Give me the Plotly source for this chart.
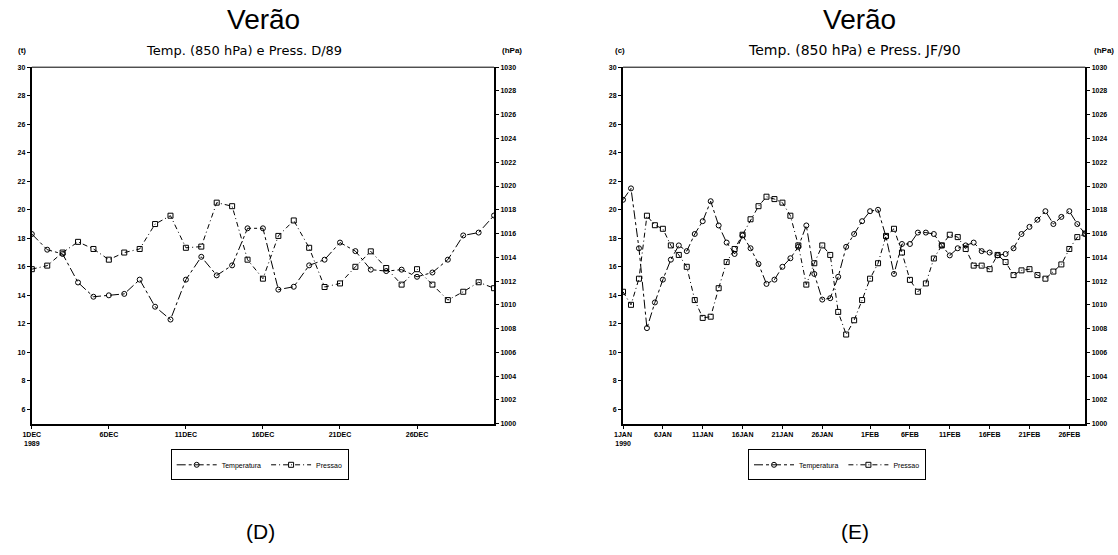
import pandas as pd
import plotly.graph_objects as go

W, H = 1118, 555

# ---------------- data ----------------
dates_d = pd.date_range("1989-12-01", "1989-12-31", freq="D")
temp_d = [18.3, 17.2, 16.9, 14.9, 13.9, 14.0, 14.1, 15.1, 13.2, 12.3, 15.1, 16.7, 15.4, 16.1, 18.7,
          18.7, 14.4, 14.6, 16.1, 16.5, 17.7, 17.1, 15.8, 15.7, 15.8, 15.3, 15.6, 16.5, 18.2, 18.4, 19.6]
press_d = [1013.0, 1013.3, 1014.4, 1015.3, 1014.7, 1013.8, 1014.4, 1014.7, 1016.8, 1017.5, 1014.8,
           1014.9, 1018.6, 1018.3, 1013.8, 1012.2, 1015.8, 1017.1, 1014.8, 1011.5, 1011.8, 1013.2,
           1014.5, 1013.1, 1011.7, 1013.0, 1011.7, 1010.4, 1011.1, 1011.9, 1011.4]

dates_jf = pd.date_range("1990-01-01", "1990-02-28", freq="D")
temp_jf = [20.7, 21.5, 17.3, 11.7, 13.5, 15.1, 16.5, 17.5, 17.1, 18.3, 19.2, 20.6, 18.9, 17.7, 16.9,
           18.2, 17.3, 16.2, 14.8, 15.1, 16.0, 16.6, 17.4, 18.9, 15.5, 13.7, 13.8, 15.3, 17.4, 18.3,
           19.2, 19.9, 20.0, 18.1, 15.5, 17.6, 17.6, 18.4, 18.4, 18.3, 17.5, 16.8, 17.3, 17.5, 17.7,
           17.1, 17.0, 16.8, 16.9, 17.3, 18.3, 18.8, 19.3, 19.9, 19.0, 19.5, 19.9, 19.0, 18.3]
press_jf = [1011.1, 1010.0, 1012.2, 1017.5, 1016.7, 1016.4, 1015.0, 1014.2, 1013.2, 1010.4,
            1008.9, 1009.0, 1011.4, 1013.6, 1014.7, 1015.9, 1017.2, 1018.3, 1019.1, 1018.9,
            1018.6, 1017.5, 1015.0, 1011.7, 1013.5, 1015.0, 1014.2, 1009.4, 1007.5, 1008.7,
            1010.4, 1012.2, 1013.5, 1015.8, 1016.4, 1014.4, 1012.1, 1011.1, 1011.8, 1013.9,
            1015.0, 1015.9, 1015.7, 1014.7, 1013.3, 1013.3, 1013.0, 1014.2, 1013.6, 1012.5,
            1012.9, 1013.0, 1012.5, 1012.2, 1012.8, 1013.4, 1014.7, 1015.7, 1016.0]

tick_d = ["1989-12-01", "1989-12-06", "1989-12-11", "1989-12-16", "1989-12-21", "1989-12-26"]
tick_d_txt = ["1DEC<br>1989", "6DEC", "11DEC", "16DEC", "21DEC", "26DEC"]
tick_jf = ["1990-01-01", "1990-01-06", "1990-01-11", "1990-01-16", "1990-01-21", "1990-01-26",
           "1990-02-01", "1990-02-06", "1990-02-11", "1990-02-16", "1990-02-21", "1990-02-26"]
tick_jf_txt = ["1JAN<br>1990", "6JAN", "11JAN", "16JAN", "21JAN", "26JAN",
               "1FEB", "6FEB", "11FEB", "16FEB", "21FEB", "26FEB"]
t_ticks = list(range(6, 31, 2))
p_ticks = list(range(1000, 1031, 2))

# ---------------- helpers ----------------
def px(x):
    return x / W

def py(y):
    return 1 - y / H

TICKFONT = dict(family="Liberation Sans", size=7, color="black", weight="bold")
LINE_T = dict(color="black", width=1, dash="dashdot")
LINE_P = dict(color="black", width=1, dash="5px,3px,1px,3px")
MK_T = dict(symbol="circle-open", size=5, color="black", line=dict(width=1, color="black"))
MK_P = dict(symbol="square-open", size=5, color="black", line=dict(width=1, color="black"))

fig = go.Figure()
fig.add_trace(go.Scatter(x=dates_d, y=temp_d, xaxis="x", yaxis="y", name="Temperatura",
                         mode="lines+markers", line=LINE_T, marker=MK_T, legend="legend"))
fig.add_trace(go.Scatter(x=dates_d, y=press_d, xaxis="x", yaxis="y2", name="Pressao",
                         mode="lines+markers", line=LINE_P, marker=MK_P, legend="legend"))
fig.add_trace(go.Scatter(x=dates_jf, y=temp_jf, xaxis="x2", yaxis="y3", name="Temperatura",
                         mode="lines+markers", line=LINE_T, marker=MK_T, legend="legend2"))
fig.add_trace(go.Scatter(x=dates_jf, y=press_jf, xaxis="x2", yaxis="y4", name="Pressao",
                         mode="lines+markers", line=LINE_P, marker=MK_P, legend="legend2"))

TOP, BOT = 64, 425
ydom = [py(BOT), py(TOP)]
common_x = dict(showgrid=False, zeroline=False, showline=True, linecolor="black", linewidth=2,
                ticks="outside", ticklen=3, tickcolor="black", tickfont=TICKFONT,
                type="date")
common_y = dict(showgrid=False, zeroline=False, showline=True, linecolor="black", linewidth=2,
                ticks="outside", ticklen=3, tickcolor="black", tickfont=TICKFONT)

LEGFONT = dict(family="Liberation Sans", size=7, color="black")
fig.update_layout(
    width=W, height=H, margin=dict(l=0, r=0, t=0, b=0),
    paper_bgcolor="white", plot_bgcolor="white",
    xaxis=dict(common_x, domain=[px(23), px(489)], anchor="y",
               range=["1989-12-01", "1989-12-31"], tickvals=tick_d, ticktext=tick_d_txt),
    yaxis=dict(common_y, domain=ydom, anchor="x", range=[5, 30], tickvals=t_ticks),
    yaxis2=dict(common_y, overlaying="y", side="right", anchor="x", range=[1000, 1030],
                tickvals=p_ticks),
    xaxis2=dict(common_x, domain=[px(619), px(1085)], anchor="y3",
                range=["1990-01-01", "1990-02-28"], tickvals=tick_jf, ticktext=tick_jf_txt),
    yaxis3=dict(common_y, domain=ydom, anchor="x2", range=[5, 30], tickvals=t_ticks),
    yaxis4=dict(common_y, overlaying="y3", side="right", anchor="x2", range=[1000, 1030],
                tickvals=p_ticks),
    legend=dict(orientation="h", x=px(163), y=py(451), xanchor="left", yanchor="top",
                bordercolor="black", borderwidth=1, bgcolor="white", font=LEGFONT,
                itemwidth=40, tracegroupgap=0),
    legend2=dict(orientation="h", x=px(745), y=py(451), xanchor="left", yanchor="top",
                 bordercolor="black", borderwidth=1, bgcolor="white", font=LEGFONT,
                 itemwidth=40, tracegroupgap=0),
)

# thin top frame lines of both panels
for x0, x1 in [(23, 489), (619, 1085)]:
    fig.add_shape(type="line", xref="paper", yref="paper", x0=px(x0), x1=px(x1),
                  y0=py(TOP), y1=py(TOP), line=dict(color="black", width=1))

def ann(text, x, y, size, family="Liberation Sans", weight="normal"):
    fig.add_annotation(text=text, x=px(x), y=py(y), xref="paper", yref="paper",
                       showarrow=False, xanchor="center", yanchor="middle",
                       font=dict(family=family, size=size, color="black", weight=weight))

ann("Verão", 257, 16, 28)
ann("Temp. (850 hPa) e Press. D/89", 237, 47, 13, family="DejaVu Sans")
ann("(t)", 13, 47, 8, weight="bold")
ann("(hPa)", 507, 47, 8, weight="bold")
ann("Verão", 857, 16, 28)
ann("Temp. (850 hPa) e Press. JF/90", 852, 47, 14, family="DejaVu Sans")
ann("(c)", 616, 47, 8, weight="bold")
ann("(hPa)", 1104, 47, 8, weight="bold")
ann("(D)", 254, 534, 21)
ann("(E)", 853, 534, 21)

fig.write_html("out.html")
